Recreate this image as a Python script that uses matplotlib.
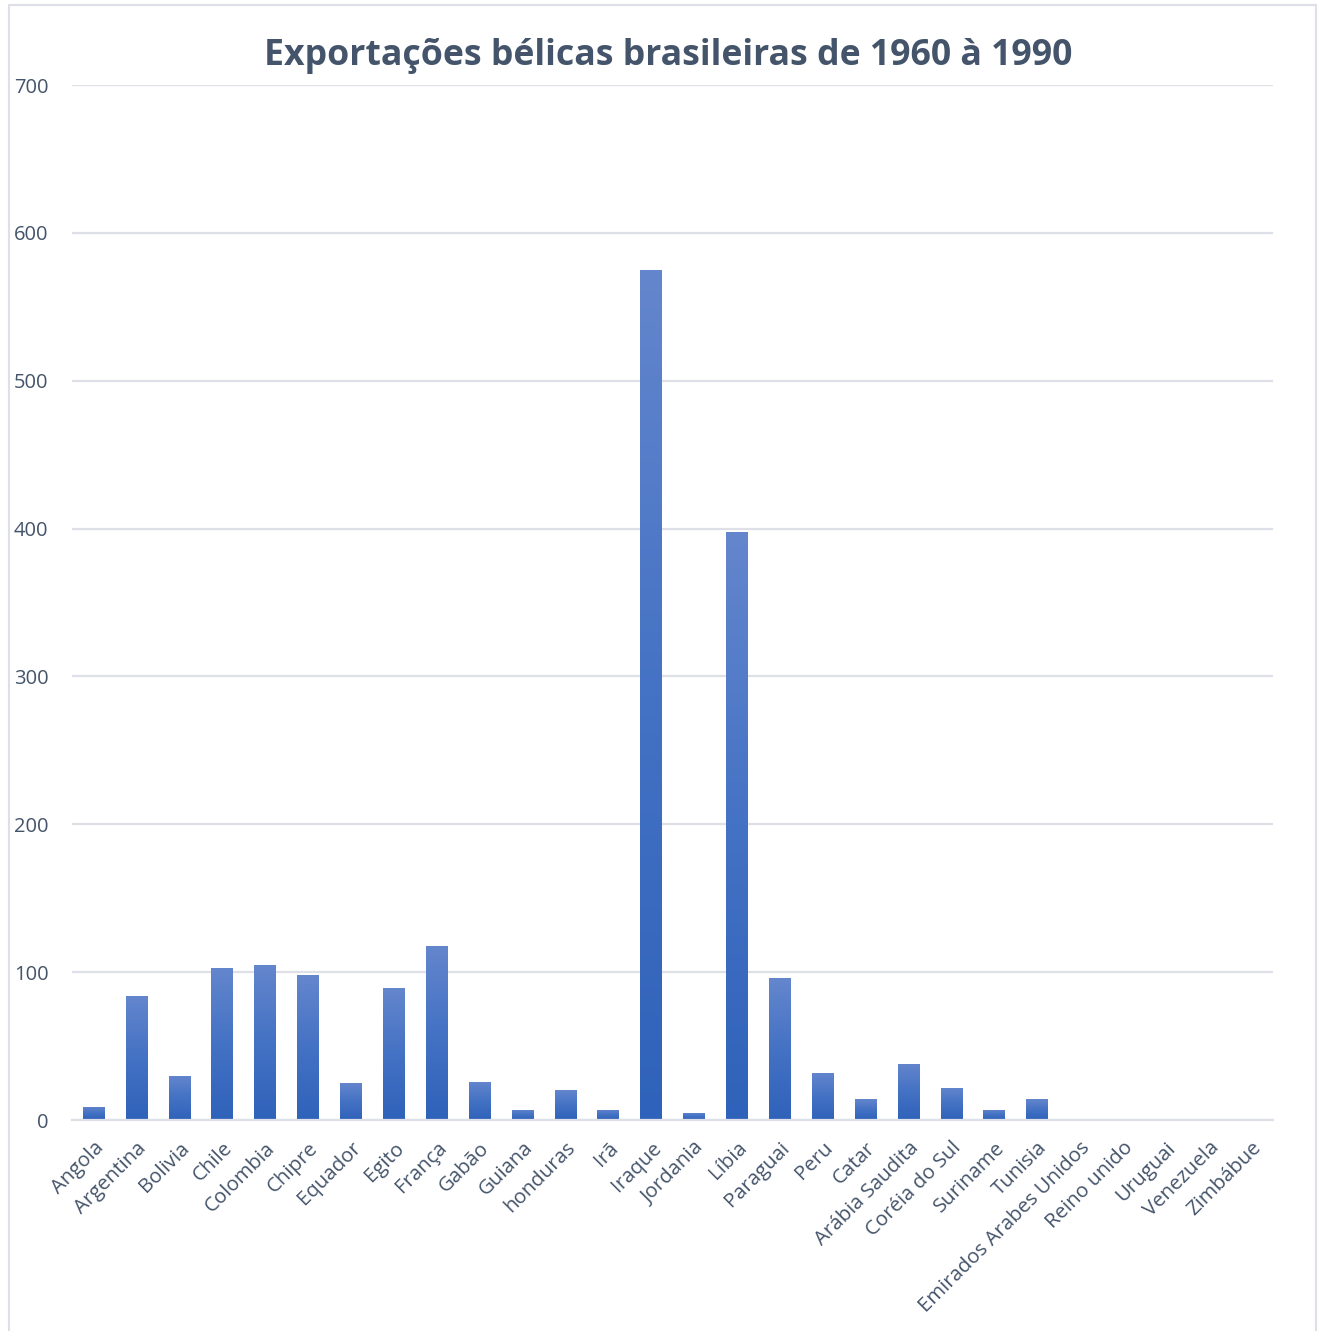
import numpy as np
import matplotlib.pyplot as plt
from matplotlib.patches import Rectangle
from matplotlib.colors import LinearSegmentedColormap

paises = ["Angola", "Argentina", "Bolivia", "Chile", "Colombia", "Chipre", "Equador",
          "Egito", "França", "Gabão", "Guiana", "honduras", "Irã", "Iraque", "Jordania",
          "Líbia", "Paraguai", "Peru", "Catar", "Arábia Saudita", "Coréia do Sul",
          "Suriname", "Tunisia", "Emirados Arabes Unidos", "Reino unido", "Uruguai",
          "Venezuela", "Zimbábue"]
valores = [9, 84, 30, 103, 105, 98, 25, 89, 118, 26, 7, 20, 7, 575, 5,
           398, 96, 32, 14, 38, 22, 7, 14, 0, 0, 0, 0, 0]
y_ticks = [0, 100, 200, 300, 400, 500, 600, 700]

txt_color = "#44546A"
grid_color = "#DDE1E7"
plt.rcParams['font.family'] = ['Open Sans', 'DejaVu Sans']

fig = plt.figure(figsize=(13.24, 13.31), dpi=100)
ax = fig.add_axes([0.0544, 0.1585, 0.9071, 0.7776])

x = np.arange(len(paises))
bars = ax.bar(x, valores, width=0.5, color="#4472C4", zorder=2)

# gradient fill, light on top, darker at the bottom
cmap = LinearSegmentedColormap.from_list("grad", ["#2F62BA", "#4472C4", "#6486CD"])
grad = np.linspace(0, 1, 256).reshape(-1, 1)
for b in bars:
    h = b.get_height()
    if h <= 0:
        continue
    b.set_facecolor("none")
    im = ax.imshow(grad, cmap=cmap, origin="lower", aspect="auto",
                   extent=[b.get_x(), b.get_x() + b.get_width(), 0, h], zorder=2)
    im.set_clip_path(b)

ax.set_xlim(-0.5, len(paises) - 0.5)
ax.set_ylim(0, 700)
ax.set_yticks(y_ticks)
ax.set_yticklabels([str(v) for v in y_ticks], fontsize=14.5, color=txt_color)
ax.set_xticks(x)
ax.set_xticklabels(paises, rotation=45, ha="right", va="top", rotation_mode="anchor",
                   fontsize=14.7, color=txt_color)
ax.tick_params(axis="both", length=0)
ax.tick_params(axis="y", pad=17)
ax.tick_params(axis="x", pad=13)
ax.grid(axis="y", color=grid_color, linewidth=1.6, zorder=0)
ax.set_axisbelow(True)
for s in ["top", "right", "left"]:
    ax.spines[s].set_visible(False)
ax.spines["bottom"].set_color(grid_color)
ax.spines["bottom"].set_linewidth(1.6)

fig.text(0.505, 0.958, "Exportações bélicas brasileiras de 1960 à 1990", ha="center", va="center",
         fontsize=25.7, fontweight="bold", color=txt_color)

# chart area border
fig.patches.append(Rectangle((0.007, -0.01), 0.987, 1.006, transform=fig.transFigure,
                             fill=False, edgecolor=grid_color, linewidth=1.5))

fig.savefig("out.png", dpi=100)
